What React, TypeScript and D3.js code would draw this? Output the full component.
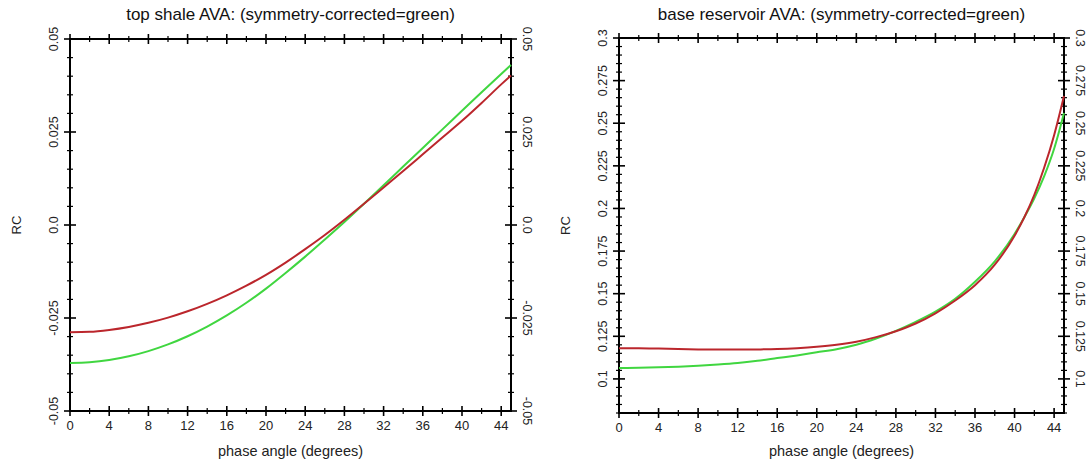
import React from 'react';
import * as d3 from 'd3';

const width = 1090;
const height = 460;
const font = '"Liberation Sans", Arial, sans-serif';

const xTicks = [0, 4, 8, 12, 16, 20, 24, 28, 32, 36, 40, 44];
const xTickLabels = ['0', '4', '8', '12', '16', '20', '24', '28', '32', '36', '40', '44'];

// top shale panel
const shaleAngles = [0, 2, 4, 6, 8, 10, 12, 14, 16, 18, 20, 22, 24, 26, 28, 30, 32, 34, 36, 38, 40, 42, 44, 45];
const shaleOriginal = [
  -0.0288, -0.0287, -0.0282, -0.0274, -0.0263, -0.0249, -0.0232, -0.0212, -0.0189, -0.0163, -0.0134, -0.0101,
  -0.0065, -0.0027, 0.0014, 0.0057, 0.0101, 0.0145, 0.019, 0.0235, 0.028, 0.0328, 0.0378, 0.0402
];
const shaleCorrected = [
  -0.0371, -0.0369, -0.0363, -0.0353, -0.0339, -0.0321, -0.0299, -0.0273, -0.0243, -0.0209, -0.0171, -0.0129,
  -0.0085, -0.0039, 0.0008, 0.0057, 0.0107, 0.0157, 0.0207, 0.0257, 0.0307, 0.0357, 0.0406, 0.043
];
const shaleYTicks = [-0.05, -0.025, 0, 0.025, 0.05];
const shaleYLabels = ['-0.05', '-0.025', '0.0', '0.025', '0.05'];

// base reservoir panel
const reservoirAngles = [0, 2, 4, 6, 8, 10, 12, 14, 16, 18, 20, 22, 24, 26, 28, 30, 32, 34, 36, 38, 40, 41, 42, 43, 44, 45];
const reservoirOriginal = [
  0.118, 0.118, 0.1178, 0.1175, 0.1173, 0.1172, 0.1172, 0.1173, 0.1175, 0.118, 0.1188, 0.12, 0.1218,
  0.1245, 0.128, 0.1325, 0.1385, 0.146, 0.155, 0.167, 0.184, 0.195, 0.208, 0.224, 0.243, 0.266
];
const reservoirCorrected = [
  0.1064, 0.1065, 0.1068, 0.1072, 0.1077, 0.1084, 0.1093, 0.1106, 0.1122, 0.1138, 0.1156, 0.1174, 0.12,
  0.1237, 0.1282, 0.1335, 0.1395, 0.147, 0.157, 0.169, 0.185, 0.195, 0.206, 0.219, 0.235, 0.256
];
const reservoirYTicks = [0.1, 0.125, 0.15, 0.175, 0.2, 0.225, 0.25, 0.275, 0.3];
const reservoirYLabels = ['0.1', '0.125', '0.15', '0.175', '0.2', '0.225', '0.25', '0.275', '0.3'];

type PanelProps = {
  title: string;
  x0: number;
  x1: number;
  y0: number;
  y1: number;
  yDomain: [number, number];
  yTicks: number[];
  yLabels: string[];
  angles: number[];
  red: number[];
  green: number[];
};

const Panel = (p: PanelProps) => {
  const x = d3.scaleLinear().domain([0, 45]).range([p.x0, p.x1]);
  const y = d3.scaleLinear().domain(p.yDomain).range([p.y1, p.y0]);
  const line = (vals: number[]) =>
    d3
      .line<number>()
      .x((_, i) => x(p.angles[i]))
      .y(d => y(d))
      .curve(d3.curveMonotoneX)(vals) || '';

  const xMinor = d3.range(0, 45, 2).filter(v => v % 4 !== 0);
  const yMinor = d3
    .range(Math.round(p.yDomain[0] * 1000), Math.round(p.yDomain[1] * 1000) + 1, 5)
    .map(v => v / 1000)
    .filter(v => !p.yTicks.some(t => Math.abs(t - v) < 1e-9));

  const cx = (p.x0 + p.x1) / 2;
  const cy = (p.y0 + p.y1) / 2;
  const maj = 5;
  const min = 3;

  return (
    <g>
      <text x={cx} y={20} textAnchor="middle" fontSize={17} fill="#111">
        {p.title}
      </text>
      {/* x ticks, bottom and top */}
      {xTicks.map(t => (
        <g key={'xt' + t}>
          <line x1={x(t)} x2={x(t)} y1={p.y1 - maj} y2={p.y1 + maj} stroke="#000" strokeWidth={1.6} />
          <line x1={x(t)} x2={x(t)} y1={p.y0 - maj} y2={p.y0 + maj} stroke="#000" strokeWidth={1.6} />
        </g>
      ))}
      {xMinor.map(t => (
        <g key={'xm' + t}>
          <line x1={x(t)} x2={x(t)} y1={p.y1 - min} y2={p.y1 + min} stroke="#000" strokeWidth={1.2} />
          <line x1={x(t)} x2={x(t)} y1={p.y0 - min} y2={p.y0 + min} stroke="#000" strokeWidth={1.2} />
        </g>
      ))}
      {/* y ticks, left and right */}
      {p.yTicks.map(t => (
        <g key={'yt' + t}>
          <line x1={p.x0 - maj - 1} x2={p.x0 + maj + 1} y1={y(t)} y2={y(t)} stroke="#000" strokeWidth={1.6} />
          <line x1={p.x1 - maj - 1} x2={p.x1 + maj + 1} y1={y(t)} y2={y(t)} stroke="#000" strokeWidth={1.6} />
        </g>
      ))}
      {yMinor.map(t => (
        <g key={'ym' + t}>
          <line x1={p.x0 - min} x2={p.x0 + min} y1={y(t)} y2={y(t)} stroke="#000" strokeWidth={1.2} />
          <line x1={p.x1 - min} x2={p.x1 + min} y1={y(t)} y2={y(t)} stroke="#000" strokeWidth={1.2} />
        </g>
      ))}
      <rect x={p.x0} y={p.y0} width={p.x1 - p.x0} height={p.y1 - p.y0} fill="none" stroke="#000" strokeWidth={2} />

      <path d={line(p.green)} fill="none" stroke="#40d640" strokeWidth={2} />
      <path d={line(p.red)} fill="none" stroke="#bb262c" strokeWidth={2} />

      {xTicks.map((t, i) => (
        <text key={'xl' + t} x={x(t)} y={p.y1 + 19} textAnchor="middle" fontSize={13} fill="#222">
          {xTickLabels[i]}
        </text>
      ))}
      {p.yTicks.map((t, i) => (
        <g key={'yl' + t}>
          <text
            transform={`translate(${p.x0 - 12},${y(t)}) rotate(-90)`}
            textAnchor="middle"
            fontSize={12.5}
            fill="#222"
          >
            {p.yLabels[i]}
          </text>
          <text
            transform={`translate(${p.x1 + 12},${y(t)}) rotate(90)`}
            textAnchor="middle"
            fontSize={12.5}
            fill="#222"
          >
            {p.yLabels[i]}
          </text>
        </g>
      ))}
      <text x={cx} y={456} textAnchor="middle" fontSize={14.5} fill="#222">
        phase angle (degrees)
      </text>
      <text transform={`translate(${p.x0 - 49},${cy}) rotate(-90)`} textAnchor="middle" fontSize={13} fill="#222">
        RC
      </text>
    </g>
  );
};

export default function App() {
  return (
    <svg
      width={width}
      height={height}
      style={{ position: 'absolute', left: 0, top: 0, background: '#fff', fontFamily: font }}
    >
      <rect width={width} height={height} fill="#fff" />
      <Panel
        title="top shale AVA: (symmetry-corrected=green)"
        x0={70}
        x1={511}
        y0={39}
        y1={411}
        yDomain={[-0.05, 0.05]}
        yTicks={shaleYTicks}
        yLabels={shaleYLabels}
        angles={shaleAngles}
        red={shaleOriginal}
        green={shaleCorrected}
      />
      <Panel
        title="base reservoir AVA: (symmetry-corrected=green)"
        x0={619}
        x1={1064}
        y0={38}
        y1={413}
        yDomain={[0.08, 0.3]}
        yTicks={reservoirYTicks}
        yLabels={reservoirYLabels}
        angles={reservoirAngles}
        red={reservoirOriginal}
        green={reservoirCorrected}
      />
    </svg>
  );
}
